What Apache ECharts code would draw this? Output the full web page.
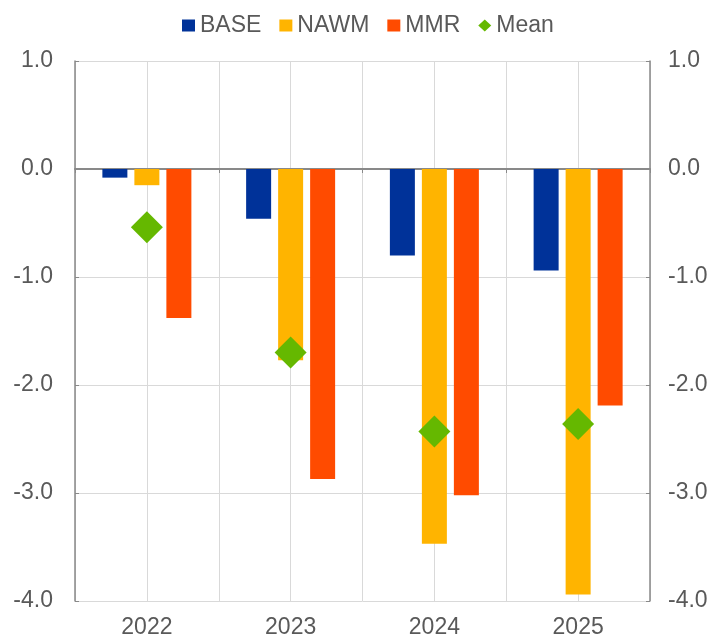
<!DOCTYPE html>
<html>
<head>
<meta charset="utf-8">
<script src="https://cdn.jsdelivr.net/npm/echarts@6/dist/echarts.min.js"></script>
<style>html,body{margin:0;padding:0;background:#fff}#c{width:713px;height:639px}</style>
</head>
<body>
<div id="c"></div>
<script>
const categories = ['2022', '2023', '2024', '2025'];
const base = [-0.08, -0.46, -0.80, -0.94];
const nawm = [-0.15, -1.77, -3.47, -3.94];
const mmr = [-1.38, -2.87, -3.02, -2.19];
const mean = [-0.54, -1.70, -2.43, -2.36];

const font = 'Liberation Sans, Arial, sans-serif';
const txt = '#595959';
const chart = echarts.init(document.getElementById('c'));
const yAxisCommon = {
  type: 'value', min: -4, max: 1, interval: 1,
  axisLine: {show: true, lineStyle: {color: '#898989', width: 1.5}},
  axisTick: {show: true, inside: true, length: 4, lineStyle: {color: '#898989'}},
  axisLabel: {fontSize: 23, color: txt, fontFamily: font, formatter: v => v.toFixed(1)},
};
chart.setOption({
  animation: false,
  textStyle: {fontFamily: font},
  legend: {
    top: 9, left: 177, itemWidth: 13, itemHeight: 12, itemGap: 18,
    textStyle: {fontSize: 23, color: txt, fontFamily: font},
    data: [
      {name: 'BASE', icon: 'rect'},
      {name: 'NAWM', icon: 'rect'},
      {name: 'MMR', icon: 'rect'},
      {name: 'Mean', icon: 'diamond'}
    ]
  },
  grid: {left: 75, right: 63, top: 61, bottom: 38},
  xAxis: [
    {
      type: 'category', data: categories, position: 'bottom',
      axisLine: {show: false}, axisTick: {show: false}, splitLine: {show: false},
      axisLabel: {fontSize: 23, color: txt, fontFamily: font, margin: 15}
    },
    {
      type: 'category', data: categories, position: 'bottom',
      axisLine: {show: true, onZero: true, lineStyle: {color: '#898989', width: 2}},
      axisTick: {show: true, length: 4, lineStyle: {color: '#898989'}},
      axisLabel: {show: false}, splitLine: {show: false}
    },
    {
      type: 'value', min: 0, max: 8, interval: 1, position: 'top',
      axisLine: {show: false}, axisTick: {show: false}, axisLabel: {show: false},
      splitLine: {show: true, lineStyle: {color: '#d9d9d9', width: 1}}
    }
  ],
  yAxis: [
    Object.assign({}, yAxisCommon, {position: 'left', axisLabel: Object.assign({}, yAxisCommon.axisLabel, {margin: 22}), splitLine: {show: true, lineStyle: {color: '#d9d9d9', width: 1}}}),
    Object.assign({}, yAxisCommon, {position: 'right', axisLabel: Object.assign({}, yAxisCommon.axisLabel, {margin: 18}), splitLine: {show: false}})
  ],
  series: [
    {name: 'BASE', type: 'bar', data: base, barWidth: 25, barGap: '28%', itemStyle: {color: '#003299'}},
    {name: 'NAWM', type: 'bar', data: nawm, barWidth: 25, barGap: '28%', itemStyle: {color: '#FFB400'}},
    {name: 'MMR', type: 'bar', data: mmr, barWidth: 25, barGap: '28%', itemStyle: {color: '#FF4B00'}},
    {name: 'Mean', type: 'scatter', data: mean, symbol: 'diamond', symbolSize: [32, 32], itemStyle: {color: '#65B800', opacity: 1}, z: 5}
  ]
});
</script>
</body>
</html>
